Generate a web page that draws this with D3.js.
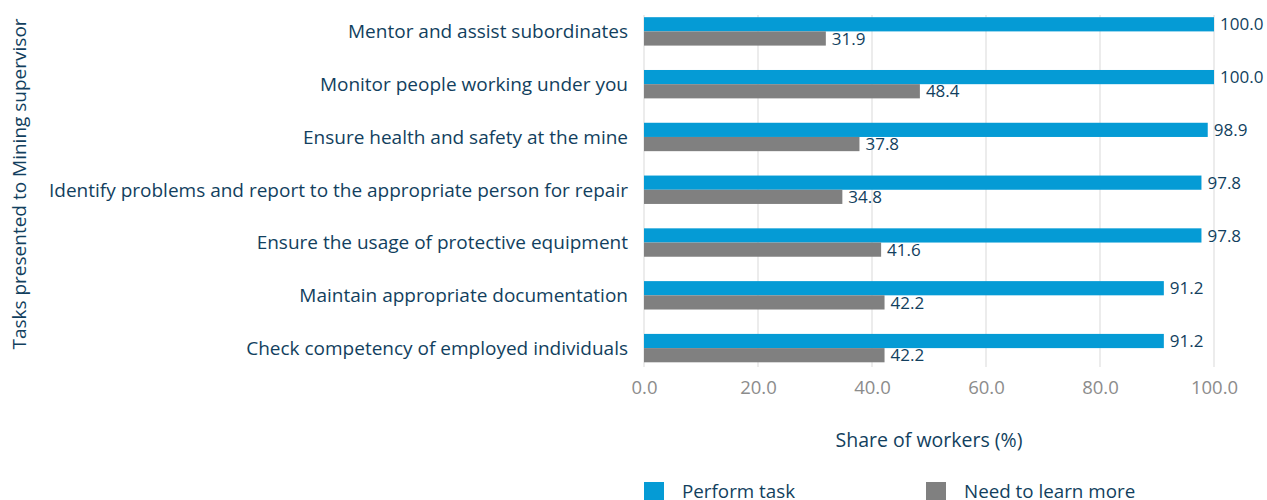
<!DOCTYPE html>
<html>
<head>
<meta charset="utf-8">
<script src="https://cdn.jsdelivr.net/npm/d3@7"></script>
<style>
  html, body { margin: 0; padding: 0; background: #fff; }
  svg { display: block; font-family: "Open Sans", "Noto Sans", sans-serif; }
</style>
</head>
<body>
<svg id="chart" width="1267" height="500"></svg>
<script>
// Tasks and survey shares (%)
const tasks = [
  "Mentor and assist subordinates",
  "Monitor people working under you",
  "Ensure health and safety at the mine",
  "Identify problems and report to the appropriate person for repair",
  "Ensure the usage of protective equipment",
  "Maintain appropriate documentation",
  "Check competency of employed individuals"
];
const performTask = [100.0, 100.0, 98.9, 97.8, 97.8, 91.2, 91.2];
const needToLearn = [31.9, 48.4, 37.8, 34.8, 41.6, 42.2, 42.2];
const xTicks = [0, 20, 40, 60, 80, 100];
const seriesNames = ["Perform task", "Need to learn more"];
const seriesColors = ["#059bd5", "#808080"];

const textColor = "#123f5e";
const svg = d3.select("#chart");

const x = d3.scaleLinear().domain([0, 100]).range([644, 1214]);
const y = d3.scaleBand().domain(tasks).range([5, 374.5]).paddingInner(0).paddingOuter(0);
const barH = 14.2;

// Vertical gridlines
svg.append("g")
  .selectAll("line")
  .data(xTicks)
  .join("line")
  .attr("x1", d => x(d)).attr("x2", d => x(d))
  .attr("y1", 15).attr("y2", 367)
  .attr("stroke", "#d9d9d9")
  .attr("stroke-width", 1);

// Bars and value labels
const series = [performTask, needToLearn];
series.forEach((vals, si) => {
  const g = svg.append("g");
  g.selectAll("rect")
    .data(tasks)
    .join("rect")
    .attr("x", x(0))
    .attr("y", (d) => y(d) + y.bandwidth() / 2 - barH + si * barH)
    .attr("width", (d, i) => x(vals[i]) - x(0))
    .attr("height", barH)
    .attr("fill", seriesColors[si]);

  g.selectAll("text")
    .data(tasks)
    .join("text")
    .attr("x", (d, i) => x(vals[i]) + 6)
    .attr("y", (d) => y(d) + y.bandwidth() / 2 - barH / 2 + si * barH)
    .attr("dy", "0.36em")
    .attr("font-size", 17)
    .attr("fill", textColor)
    .text((d, i) => vals[i].toFixed(1));
});

// Category labels
svg.append("g")
  .selectAll("text")
  .data(tasks)
  .join("text")
  .attr("x", 628)
  .attr("y", d => y(d) + y.bandwidth() / 2)
  .attr("dy", "0.36em")
  .attr("text-anchor", "end")
  .attr("font-size", 19)
  .attr("fill", textColor)
  .text(d => d);

// X-axis tick labels
const xAxis = d3.axisBottom(x).tickValues(xTicks).tickFormat(d3.format(".1f")).tickSize(0).tickPadding(0);
const gx = svg.append("g").attr("transform", "translate(0,381)").call(xAxis);
gx.select(".domain").remove();
gx.selectAll("text")
  .attr("font-size", 18.5)
  .attr("font-family", "'Open Sans', sans-serif")
  .attr("fill", "#8c8c8c");

// Axis titles
svg.append("text")
  .attr("x", (x(0) + x(100)) / 2)
  .attr("y", 447)
  .attr("text-anchor", "middle")
  .attr("font-size", 19.5)
  .attr("fill", textColor)
  .text("Share of workers (%)");

svg.append("text")
  .attr("transform", "translate(26,184) rotate(-90)")
  .attr("text-anchor", "middle")
  .attr("font-size", 19)
  .attr("fill", textColor)
  .text("Tasks presented to Mining supervisor");

// Legend
const legendX = [644, 926];
const legend = svg.append("g");
seriesNames.forEach((name, i) => {
  legend.append("rect")
    .attr("x", legendX[i]).attr("y", 482)
    .attr("width", 20).attr("height", 20)
    .attr("fill", seriesColors[i]);
  legend.append("text")
    .attr("x", legendX[i] + 38).attr("y", 498)
    .attr("font-size", 18.8)
    .attr("fill", textColor)
    .text(name);
});
</script>
</body>
</html>
